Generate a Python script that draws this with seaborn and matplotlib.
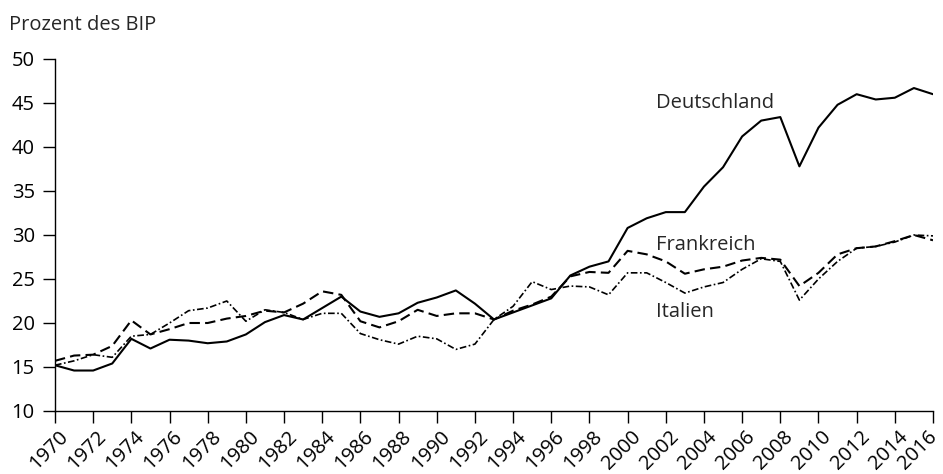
import numpy as np
import pandas as pd
import seaborn as sns
import matplotlib.pyplot as plt
import matplotlib.transforms as mtrans

years = list(range(1970, 2017))

deutschland = [15.2, 14.6, 14.6, 15.4, 18.2, 17.1, 18.1, 18.0, 17.7, 17.9,
               18.7, 20.1, 20.9, 20.4, 21.7, 23.0, 21.3, 20.7, 21.1, 22.3,
               22.9, 23.7, 22.2, 20.4, 21.2, 22.0, 22.8, 25.4, 26.4, 27.0,
               30.8, 31.9, 32.6, 32.6, 35.5, 37.7, 41.2, 43.0, 43.4, 37.8,
               42.2, 44.8, 46.0, 45.4, 45.6, 46.7, 46.0]

frankreich = [15.7, 16.3, 16.4, 17.4, 20.3, 18.7, 19.3, 20.0, 20.0, 20.5,
              20.8, 21.4, 21.2, 22.2, 23.6, 23.2, 20.2, 19.5, 20.2, 21.5,
              20.8, 21.1, 21.1, 20.4, 21.4, 22.1, 23.0, 25.3, 25.8, 25.7,
              28.2, 27.8, 27.0, 25.6, 26.1, 26.4, 27.1, 27.4, 27.2, 24.2,
              25.7, 27.8, 28.5, 28.7, 29.3, 30.0, 29.4]

italien = [15.2, 15.7, 16.4, 16.1, 18.5, 18.7, 20.0, 21.4, 21.7, 22.5,
           20.2, 21.5, 21.2, 20.4, 21.1, 21.1, 18.8, 18.1, 17.6, 18.5,
           18.2, 17.0, 17.6, 20.4, 21.9, 24.7, 23.8, 24.2, 24.1, 23.2,
           25.7, 25.7, 24.6, 23.4, 24.1, 24.6, 26.1, 27.3, 27.0, 22.6,
           25.0, 27.0, 28.5, 28.7, 29.2, 30.0, 29.9]

df = pd.DataFrame({"Jahr": years, "Deutschland": deutschland,
                   "Frankreich": frankreich, "Italien": italien})

sns.set_style("ticks")
plt.rcParams['font.family'] = ['Open Sans', 'DejaVu Sans']
fs = 14.5

fig = plt.figure(figsize=(9.43, 4.74), dpi=100)
ax = fig.add_axes([55 / 943, 1 - 411 / 474, 878 / 943, 352 / 474])

sns.lineplot(data=df, x="Jahr", y="Deutschland", color="black", lw=1.5, ax=ax)
sns.lineplot(data=df, x="Jahr", y="Frankreich", color="black", lw=1.5,
             ax=ax).lines[-1].set_dashes([5, 2.5])
sns.lineplot(data=df, x="Jahr", y="Italien", color="black", lw=1.2,
             ax=ax).lines[-1].set_dashes([4, 1.5, 1, 1.5])

ax.set_xlim(1970, 2016)
ax.set_ylim(10, 50)
ax.set_xticks(range(1970, 2017, 2))
ax.set_yticks(range(10, 51, 5))
ax.set_xticklabels([str(y) for y in range(1970, 2017, 2)], rotation=45,
                   ha="right", rotation_mode="anchor")
ax.tick_params(labelsize=fs, length=8.6, width=1, color="black", labelcolor="black")
ax.tick_params(axis="y", pad=6)
ax.tick_params(axis="x", pad=3)
# labels sit a little right of their ticks, as in the original;
# the last one is nudged left so it stays inside the figure
labs = ax.get_xticklabels()
for i, lab in enumerate(labs):
    dx = -6 if i == len(labs) - 1 else 3
    lab.set_transform(lab.get_transform() +
                      mtrans.ScaledTranslation(dx / 100, 0, fig.dpi_scale_trans))
ax.set_xlabel("")
ax.set_ylabel("")
sns.despine(ax=ax)
for s in ["left", "bottom"]:
    ax.spines[s].set_linewidth(1)
    ax.spines[s].set_color("black")

ax.text(2001.5, 44.46, "Deutschland", fontsize=fs, va="baseline")
ax.text(2001.5, 28.24, "Frankreich", fontsize=fs, va="baseline")
ax.text(2001.5, 20.68, "Italien", fontsize=fs, va="baseline")

fig.text(9 / 943, 1 - 30 / 474, "Prozent des BIP", fontsize=fs, va="baseline")

fig.savefig("out.png", dpi=100)
